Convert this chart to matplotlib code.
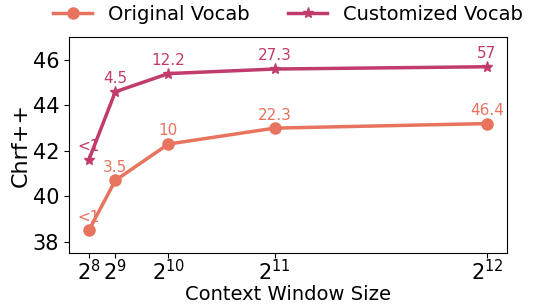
"""Chrf++ vs context window size for original and customized vocab."""

import matplotlib
matplotlib.use("Agg")
import matplotlib.pyplot as plt


# data
context_sizes = [256, 512, 1024, 2048, 4096]
tick_labels = ["$2^8$", "$2^9$", "$2^{10}$", "$2^{11}$", "$2^{12}$"]

original_chrf = [38.5, 40.7, 42.3, 43.0, 43.2]
original_notes = ["<1", "3.5", "10", "22.3", "46.4"]

custom_chrf = [41.6, 44.6, 45.4, 45.6, 45.7]
custom_notes = ["<1", "4.5", "12.2", "27.3", "57"]

ORIGINAL_COLOR = "#e8735e"
CUSTOM_COLOR = "#c13b6c"


def plot_series(ax, values, notes, color, marker, label):
    """Plot one series and write its notes above the points."""
    ax.plot(context_sizes, values, color=color, marker=marker, markersize=8,
            linewidth=2.5, label=label)
    for x, y, note in zip(context_sizes, values, notes):
        ax.annotate(note, (x, y), xytext=(0, 4), textcoords="offset points",
                    ha="center", va="bottom", color=color, fontsize=11)


def main():
    fig = plt.figure(figsize=(5.34, 3.05), dpi=100)
    ax = fig.add_axes([0.129, 0.17, 0.82, 0.708])

    plot_series(ax, original_chrf, original_notes, ORIGINAL_COLOR, "o", "Original Vocab")
    plot_series(ax, custom_chrf, custom_notes, CUSTOM_COLOR, "*", "Customized Vocab")

    ax.set_xticks(context_sizes)
    ax.set_xticklabels(tick_labels)
    ax.set_ylim(37.5, 47)
    ax.set_yticks([38, 40, 42, 44, 46])
    ax.tick_params(labelsize=15)
    ax.tick_params(axis="x", pad=1)
    ax.set_xlabel("Context Window Size", fontsize=14, labelpad=0)
    ax.set_ylabel("Chrf++", fontsize=16, labelpad=1)

    ax.legend(loc="lower center", bbox_to_anchor=(0.5, 0.98), ncol=2,
              frameon=False, fontsize=14, columnspacing=2.0)

    fig.savefig("out.png")
    plt.close(fig)


if __name__ == "__main__":
    main()
